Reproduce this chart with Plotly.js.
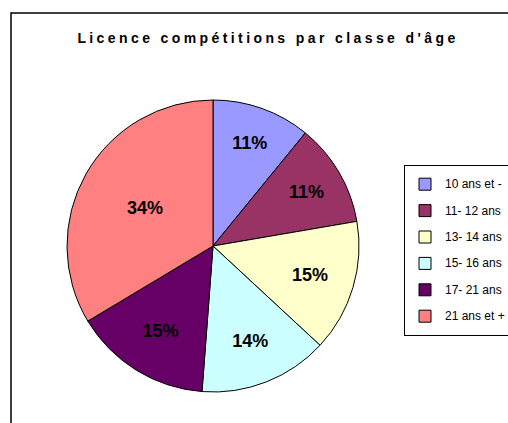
<!DOCTYPE html>
<html>
<head>
<meta charset="utf-8">
<script src="https://cdn.plot.ly/plotly-3.0.1.min.js"></script>
<style>html,body{margin:0;padding:0;background:#fff;}#chart{width:508px;height:423px;}</style>
</head>
<body>
<div id="chart"></div>
<script>
const categories = ["10 ans et -", "11- 12 ans", "13- 14 ans", "15- 16 ans", "17- 21 ans", "21 ans et +"];
const shares = [10.9, 11.4, 14.6, 14.3, 15.2, 33.6];
const sliceColors = ["#9999FF", "#993366", "#FFFFCC", "#CCFFFF", "#660066", "#FF8080"];
const chartTitle = "Licence compétitions par classe d'âge";

const W = 508, H = 423;
const legendLabels = categories.map(c => '<span style="font-size:12px;baseline-shift:3.5px">' + c + '</span>');

const trace = {
  type: 'pie',
  labels: legendLabels,
  values: shares,
  sort: false,
  direction: 'clockwise',
  rotation: 0,
  marker: {colors: sliceColors, line: {color: '#000000', width: 1}},
  texttemplate: '%{percent:.0%}',
  textposition: 'inside',
  insidetextorientation: 'horizontal',
  textfont: {family: 'Liberation Sans Narrow, Arial Narrow, Liberation Sans, Arial, sans-serif', size: 18, color: '#000000', weight: 'bold'},
  hoverinfo: 'label+percent',
  domain: {x: [67 / W, 359 / W], y: [1 - 392 / H, 1 - 100 / H]}
};

const layout = {
  width: W, height: H,
  margin: {l: 0, r: 0, t: 0, b: 0, autoexpand: false},
  paper_bgcolor: '#ffffff',
  plot_bgcolor: '#ffffff',
  font: {family: 'Liberation Sans, Arial, sans-serif', color: '#000000'},
  title: {
    text: '<span style="letter-spacing:3.4px">' + chartTitle + '</span>',
    font: {family: 'Liberation Sans, Arial, sans-serif', size: 14, color: '#000000', weight: 'bold'},
    x: 268 / W, xanchor: 'center', xref: 'paper',
    y: 1 - 38 / H, yanchor: 'middle', yref: 'paper'
  },
  showlegend: true,
  legend: {
    x: 404 / W, xanchor: 'left', y: 1 - 165 / H, yanchor: 'top',
    bgcolor: '#ffffff', bordercolor: '#000000', borderwidth: 1,
    font: {family: 'Liberation Sans, Arial, sans-serif', size: 18, color: '#000000'},
    traceorder: 'normal'
  },
  shapes: [{
    type: 'rect', xref: 'paper', yref: 'paper',
    x0: 11 / W, x1: 1.2, y0: 1 - 13 / H, y1: -0.2,
    line: {color: '#000000', width: 1.5}, fillcolor: 'rgba(0,0,0,0)', layer: 'below'
  }]
};

Plotly.newPlot('chart', [trace], layout, {displayModeBar: false, staticPlot: true});
</script>
</body>
</html>
